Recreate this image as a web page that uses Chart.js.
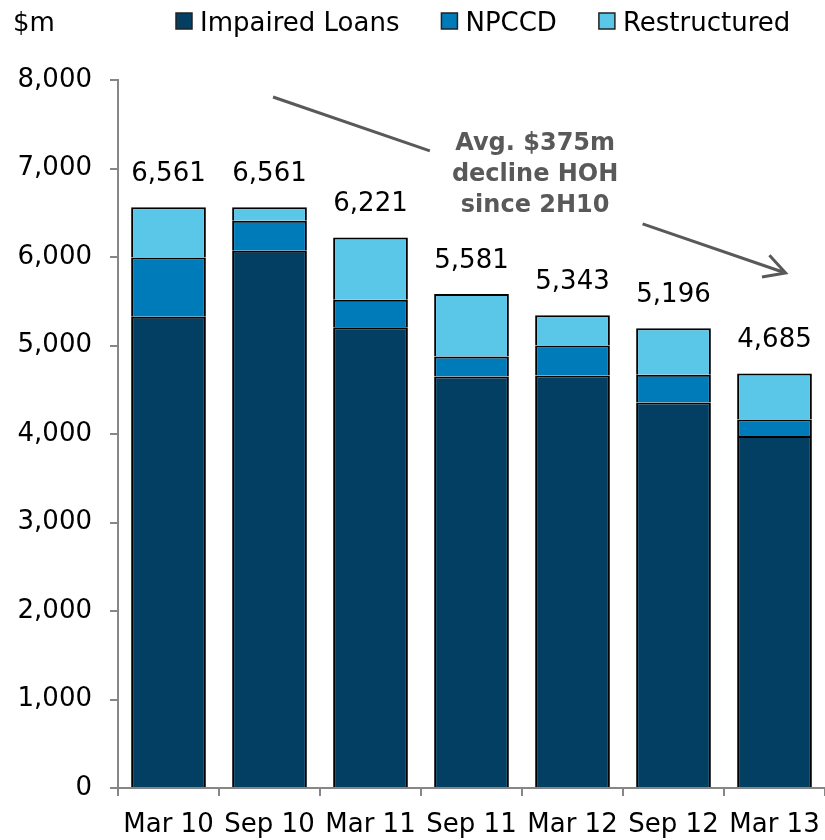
<!DOCTYPE html>
<html>
<head>
<meta charset="utf-8">
<title>Impaired Loans, NPCCD and Restructured</title>
<script src="https://cdn.jsdelivr.net/npm/chart.js@4/dist/chart.umd.min.js"></script>
<style>
  html, body { margin: 0; padding: 0; background: #fff; }
  #wrap { width: 825px; height: 840px; position: relative; }
</style>
</head>
<body>
<div id="wrap"><canvas id="chart"></canvas></div>
<script>
// ── Data ($m) ───────────────────────────────────────────────────────
const LABELS       = ["Mar 10", "Sep 10", "Mar 11", "Sep 11", "Mar 12", "Sep 12", "Mar 13"];
const IMPAIRED     = [5325, 6070, 5205, 4650, 4660, 4357, 3977];
const NPCCD        = [670, 340, 312, 227, 341, 313, 188];
const RESTRUCTURED = [566, 151, 704, 704, 342, 526, 520];
const TOTALS       = [6561, 6561, 6221, 5581, 5343, 5196, 4685];
const Y_TICKS      = [0, 1000, 2000, 3000, 4000, 5000, 6000, 7000, 8000];

const NOTE_LINES = ["Avg. $375m", "decline HOH", "since 2H10"];

const FONT  = "'DejaVu Sans', Verdana, sans-serif";
const AXIS  = "#868686";
const GREY  = "#595959";

// annotation placement in data units (category index, $m)
const ARROW = { from: [1.035, 7808], to: [6.11, 5819], gapStart: 0.306, gapEnd: 0.721 };
const NOTE  = { x: 3.63, y: 6860, lineHeight: 31 };

const fmt = v => Number(v).toLocaleString("en-US");

// ── Overlay: totals, arrow note, legend and unit label ─────────────
const overlay = {
    id: "overlay",
    afterDatasetsDraw(chart) {
        const { ctx, scales: { x, y } } = chart;
        const top = chart.getDatasetMeta(chart.data.datasets.length - 1);

        ctx.save();
        ctx.font = `26px ${FONT}`;
        ctx.fillStyle = "#000";
        ctx.textAlign = "center";
        ctx.textBaseline = "alphabetic";
        TOTALS.forEach((t, i) => {
            const bar = top.data[i];
            ctx.fillText(fmt(t), bar.x, bar.y - 26);
        });

        // arrow, broken where the note sits
        const x0 = x.getPixelForValue(ARROW.from[0]), y0 = y.getPixelForValue(ARROW.from[1]);
        const x1 = x.getPixelForValue(ARROW.to[0]),   y1 = y.getPixelForValue(ARROW.to[1]);
        const at = t => [x0 + (x1 - x0) * t, y0 + (y1 - y0) * t];
        ctx.strokeStyle = GREY;
        ctx.lineWidth = 3;
        ctx.lineCap = "butt";
        ctx.beginPath();
        ctx.moveTo(...at(0));
        ctx.lineTo(...at(ARROW.gapStart));
        ctx.moveTo(...at(ARROW.gapEnd));
        ctx.lineTo(...at(1));
        const ang = Math.atan2(y1 - y0, x1 - x0);
        const head = 24, spread = 0.5;
        ctx.moveTo(x1 - head * Math.cos(ang - spread), y1 - head * Math.sin(ang - spread));
        ctx.lineTo(x1, y1);
        ctx.lineTo(x1 - head * Math.cos(ang + spread), y1 - head * Math.sin(ang + spread));
        ctx.stroke();

        ctx.fillStyle = GREY;
        ctx.font = `bold 24px ${FONT}`;
        const nx = x.getPixelForValue(NOTE.x), ny = y.getPixelForValue(NOTE.y);
        NOTE_LINES.forEach((line, i) => {
            ctx.fillText(line, nx, ny + (i - 1) * NOTE.lineHeight);
        });
        ctx.restore();
    },
    afterDraw(chart) {
        const { ctx } = chart;
        ctx.save();
        ctx.font = `26px ${FONT}`;
        ctx.textBaseline = "alphabetic";
        ctx.textAlign = "left";
        ctx.fillStyle = "#000";
        ctx.fillText("$m", 13, 31);

        let lx = 176;
        chart.data.datasets.forEach(ds => {
            ctx.fillStyle = ds.backgroundColor;
            ctx.fillRect(lx, 13, 16, 16);
            ctx.strokeStyle = "#222";
            ctx.lineWidth = 1.5;
            ctx.strokeRect(lx, 13, 16, 16);
            ctx.fillStyle = "#000";
            ctx.fillText(ds.label, lx + 24, 31);
            lx += 24 + ctx.measureText(ds.label).width + 42;
        });
        ctx.restore();
    }
};

const barStyle = { borderColor: "#000", borderWidth: 2, borderSkipped: "start",
                   barPercentage: 0.74, categoryPercentage: 1.0 };

new Chart(document.getElementById("chart"), {
    type: "bar",
    data: {
        labels: LABELS,
        datasets: [
            { label: "Impaired Loans", data: IMPAIRED,     backgroundColor: "#023f62", ...barStyle },
            { label: "NPCCD",          data: NPCCD,        backgroundColor: "#007bb9", ...barStyle },
            { label: "Restructured",   data: RESTRUCTURED, backgroundColor: "#5ac6e8", ...barStyle },
        ]
    },
    options: {
        responsive: true, maintainAspectRatio: false,
        animation: false,
        layout: { padding: { top: 80, left: 0, right: 0, bottom: 0 } },
        plugins: {
            legend: { display: false },
            tooltip: { enabled: false }
        },
        scales: {
            x: {
                stacked: true,
                afterFit: s => { s.height = 52; s.paddingLeft = 0; s.paddingRight = 0; },
                grid: { display: true, offset: true, drawOnChartArea: false, drawTicks: true,
                        tickLength: 8, color: AXIS, lineWidth: 2 },
                border: { display: true, color: AXIS, width: 2 },
                ticks: { color: "#000", font: { family: FONT, size: 26 }, padding: 14,
                         maxRotation: 0, autoSkip: false }
            },
            y: {
                stacked: true,
                min: 0, max: 8000,
                afterBuildTicks: s => { s.ticks = Y_TICKS.map(v => ({ value: v })); },
                afterFit: s => { s.width = 118; },
                grid: { display: true, drawOnChartArea: false, drawTicks: true,
                        tickLength: 8, color: AXIS, lineWidth: 2 },
                border: { display: true, color: AXIS, width: 2 },
                ticks: { color: "#000", font: { family: FONT, size: 26 }, padding: 18,
                         callback: v => fmt(v) }
            }
        }
    },
    plugins: [overlay]
});
</script>
</body>
</html>
